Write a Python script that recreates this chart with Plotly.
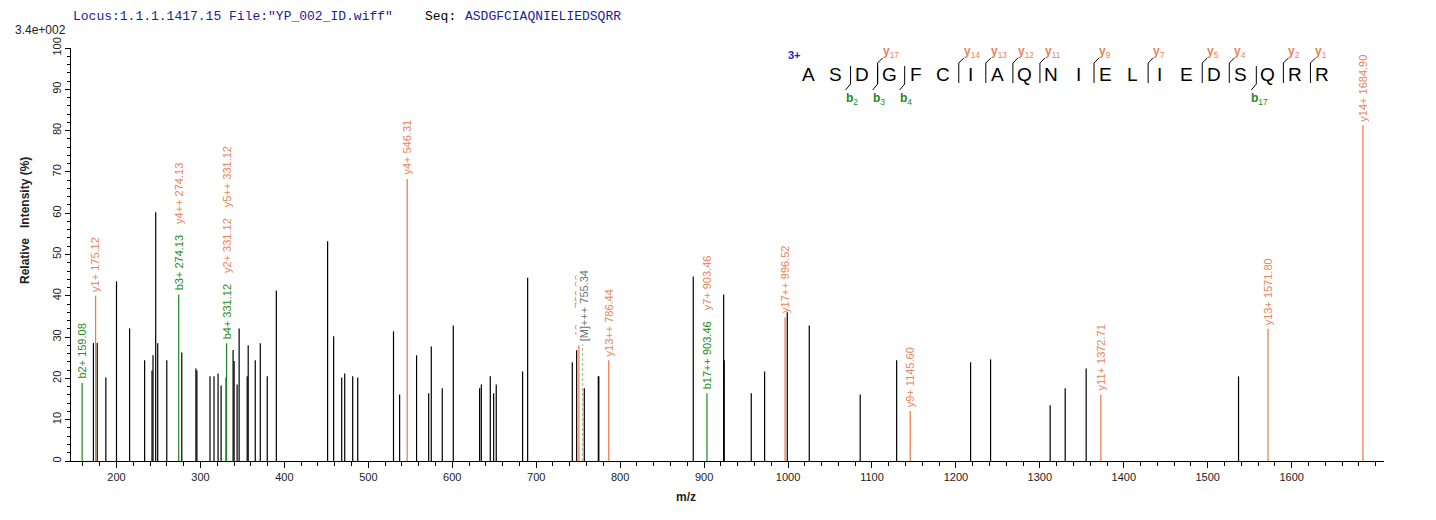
import plotly.graph_objects as go

# ---------------- data ----------------
black_mz = [172.5, 177.0, 187.3, 200.0, 215.6, 233.5, 242.3, 243.5, 246.7, 249.1,
            259.9, 277.8, 294.6, 295.8, 311.4, 316.2, 321.0, 324.6, 330.6, 338.9,
            340.1, 343.7, 346.1, 355.7, 356.9, 365.3, 371.3, 379.6, 390.4, 451.5,
            458.7, 468.3, 471.9, 481.4, 487.4, 530.0, 537.3, 557.5, 571.9, 575.0,
            588.1, 601.2, 632.6, 634.6, 645.3, 649.3, 652.4, 683.8, 689.8, 743.0,
            748.2, 757.3, 774.0, 774.6, 887.1, 923.3, 924.0, 956.2, 972.1, 999.1,
            1025.3, 1086.0, 1129.4, 1217.5, 1241.3, 1312.3, 1330.2, 1355.2, 1536.7]
black_int = [28.6, 28.6, 20.2, 43.5, 32.1, 24.4, 21.9, 25.6, 60.2, 28.5,
             24.4, 26.3, 22.4, 21.9, 20.5, 20.5, 21.2, 18.3, 20.2, 26.9,
             24.2, 18.5, 32.1, 20.5, 28.0, 24.4, 28.5, 20.5, 41.3, 53.2,
             30.2, 20.2, 21.2, 20.5, 20.2, 31.4, 16.1, 25.6, 16.4, 27.7,
             17.6, 32.8, 17.6, 18.5, 20.5, 16.4, 18.5, 21.7, 44.4, 23.9,
             26.8, 17.6, 20.5, 20.5, 44.7, 40.3, 24.4, 16.4, 21.7, 36.0,
             32.8, 16.1, 24.4, 23.9, 24.6, 13.5, 17.6, 22.4, 20.5]

# annotated fragment peaks
frag_mz = [159.08, 175.12, 274.13, 331.12, 546.31, 750.88, 786.44, 903.46,
           996.52, 1145.60, 1372.71, 1571.80, 1684.90]
frag_int = [18.9, 40.0, 40.3, 28.5, 68.3, 28.0, 24.4, 16.4,
            34.8, 12.1, 16.1, 32.0, 81.3]
frag_type = ["b", "y", "b", "b", "y", "y", "y", "b", "y", "y", "y", "y", "y"]
frag_labels = [
    [("b", "b2+ 159.08")],
    [("y", "y1+ 175.12")],
    [("b", "b3+ 274.13"), ("y", "y4++ 274.13")],
    [("b", "b4+ 331.12"), ("y", "y2+ 331.12"), ("y", "y5++ 331.12")],
    [("y", "y4+ 546.31")],
    [("y", "y12++ 750.88")],
    [("y", "y13++ 786.44")],
    [("b", "b17++ 903.46"), ("y", "y7+ 903.46")],
    [("y", "y17++ 996.52")],
    [("y", "y9+ 1145.60")],
    [("y", "y11+ 1372.71")],
    [("y", "y13+ 1571.80")],
    [("y", "y14+ 1684.90")],
]

prec_mz = [755.34]
prec_int = [28.3]
prec_label = ["[M]+++ 755.34"]

sequence = "ASDGFCIAQNIELIEDSQRR"
b_ions = [2, 3, 4, 17]
y_ions = [17, 14, 13, 12, 11, 9, 7, 5, 4, 2, 1]

x_ticks = [200, 300, 400, 500, 600, 700, 800, 900, 1000, 1100, 1200, 1300, 1400, 1500, 1600]
y_ticks = [0, 10, 20, 30, 40, 50, 60, 70, 80, 90, 100]

# ---------------- style ----------------
ORANGE_LINE = "#F2753D"
ORANGE_TXT = "#E8845A"
GREEN_LINE = "#1E8A1E"
GREEN_TXT = "#238C23"
BLUE = "#1C1C9C"
FONT = "Liberation Sans, Arial, sans-serif"
MONO = "Liberation Mono, Courier New, monospace"

# page has an 8px body margin: size the figure so it lands on the 1436x520 window
OFF = 8
W, H = 1436 - OFF, 520 - OFF
# plot-area edges in window pixels
L, R, T, B = 71, 1384, 48, 461


def pxx(xp):
    return (xp - L) / (R - L)


def pxy(yp):
    return (B - yp) / (B - T)


def sticks(xs, ys):
    X, Y = [], []
    for a, b in zip(xs, ys):
        X += [a, a, None]
        Y += [0, b, None]
    return X, Y


fig = go.Figure()
bx, by = sticks(black_mz, black_int)
fig.add_trace(go.Scatter(x=bx, y=by, mode="lines", line=dict(color="black", width=1.2),
                         hoverinfo="skip", showlegend=False))
for t, col in (("y", ORANGE_LINE), ("b", GREEN_LINE)):
    xs = [m for m, tt in zip(frag_mz, frag_type) if tt == t]
    ys = [h for h, tt in zip(frag_int, frag_type) if tt == t]
    fx, fy = sticks(xs, ys)
    fig.add_trace(go.Scatter(x=fx, y=fy, mode="lines", line=dict(color=col, width=1.2),
                             hoverinfo="skip", showlegend=False))
px_, py_ = sticks(prec_mz, prec_int)
fig.add_trace(go.Scatter(x=px_, y=py_, mode="lines", line=dict(color="#A8A8A8", width=1, dash="3px,2px"),
                         hoverinfo="skip", showlegend=False))

ann = []
for m, h, labs in zip(frag_mz, frag_int, frag_labels):
    parts = []
    for t, s in labs:
        c = GREEN_TXT if t == "b" else ORANGE_TXT
        parts.append('<span style="color:%s">%s</span>' % (c, s))
    txt = "\u2002\u2002".join(parts)
    ann.append(dict(x=m, y=h, xref="x", yref="y", text=txt, textangle=-90,
                    showarrow=False, xanchor="center", yanchor="bottom", yshift=2,
                    font=dict(family=FONT, size=11)))
for m, h, s in zip(prec_mz, prec_int, prec_label):
    ann.append(dict(x=m, y=h, xref="x", yref="y", text=s, textangle=-90,
                    showarrow=False, xanchor="center", yanchor="bottom", yshift=1, xshift=1,
                    bgcolor="white", font=dict(family=FONT, size=11, color="#707070")))

# header
ann.append(dict(x=pxx(71), y=pxy(16), xref="paper", yref="paper", xanchor="left", yanchor="middle",
                showarrow=False, text='Locus:1.1.1.1417.15 File:"YP_002_ID.wiff"',
                font=dict(family=MONO, size=13, color=BLUE)))
ann.append(dict(x=pxx(423), y=pxy(16), xref="paper", yref="paper", xanchor="left", yanchor="middle",
                showarrow=False, text="Seq:", font=dict(family=MONO, size=13, color="black")))
ann.append(dict(x=pxx(463), y=pxy(16), xref="paper", yref="paper", xanchor="left", yanchor="middle",
                showarrow=False, text=sequence, font=dict(family=MONO, size=13, color=BLUE)))
ann.append(dict(x=pxx(68), y=pxy(30), xref="paper", yref="paper", xanchor="right", yanchor="middle",
                showarrow=False, text="3.4e+002", font=dict(family=FONT, size=12, color="#222")))

# axis titles
ann.append(dict(x=pxx(25), y=pxy(221), xref="paper", yref="paper", xanchor="center", yanchor="middle",
                showarrow=False, textangle=-90, text="<b>Relative\u00a0\u00a0\u00a0Intensity (%)</b>",
                font=dict(family=FONT, size=12, color="#222")))
ann.append(dict(x=pxx(686), y=pxy(497), xref="paper", yref="paper", xanchor="center", yanchor="middle",
                showarrow=False, text="<b>m/z</b>", font=dict(family=FONT, size=12, color="#222")))

# sequence diagram
X0, DX, YC = 808, 27.05, 74
ann.append(dict(x=pxx(786), y=pxy(55), xref="paper", yref="paper", xanchor="left", yanchor="middle",
                showarrow=False, text="<b>3+</b>", font=dict(family=FONT, size=11, color="#2222CC")))
for i, ch in enumerate(sequence):
    ann.append(dict(x=pxx(X0 + i * DX), y=pxy(YC), xref="paper", yref="paper", xanchor="center",
                    yanchor="middle", showarrow=False, text=ch,
                    font=dict(family=FONT, size=19, color="black")))
shapes = []
n = len(sequence)
for k in b_ions:
    xc = X0 + (k - 0.5) * DX + 2
    shapes.append(dict(type="line", xref="paper", yref="paper", x0=pxx(xc), x1=pxx(xc),
                       y0=pxy(66), y1=pxy(84), line=dict(color="black", width=1)))
    shapes.append(dict(type="line", xref="paper", yref="paper", x0=pxx(xc), x1=pxx(xc - 5),
                       y0=pxy(84), y1=pxy(90), line=dict(color="black", width=1)))
    ann.append(dict(x=pxx(xc - 7), y=pxy(99), xref="paper", yref="paper", xanchor="left",
                    yanchor="middle", showarrow=False, text="<b>b</b><sub>%d</sub>" % k,
                    font=dict(family=FONT, size=12, color=GREEN_LINE)))
for j in y_ions:
    k = n - j
    xc = X0 + (k - 0.5) * DX + 2
    shapes.append(dict(type="line", xref="paper", yref="paper", x0=pxx(xc), x1=pxx(xc),
                       y0=pxy(63), y1=pxy(83), line=dict(color="black", width=1)))
    shapes.append(dict(type="line", xref="paper", yref="paper", x0=pxx(xc), x1=pxx(xc + 5),
                       y0=pxy(63), y1=pxy(58), line=dict(color="black", width=1)))
    ann.append(dict(x=pxx(xc + 3), y=pxy(52), xref="paper", yref="paper", xanchor="left",
                    yanchor="middle", showarrow=False, text="<b>y</b><sub>%d</sub>" % j,
                    font=dict(family=FONT, size=12, color=ORANGE_TXT)))

fig.update_layout(
    width=W, height=H,
    margin=dict(l=L - OFF, r=1436 - R, t=T - OFF, b=520 - B, pad=0),
    paper_bgcolor="white", plot_bgcolor="white",
    annotations=ann, shapes=shapes,
    xaxis=dict(range=[145.8, 1710], showgrid=False, zeroline=False, showline=True,
               linecolor="black", linewidth=1, ticks="outside", ticklen=6, tickcolor="black",
               tickmode="array", tickvals=x_ticks, ticktext=[str(v) for v in x_ticks],
               tickfont=dict(family=FONT, size=11, color="#222"),
               minor=dict(dtick=20, tick0=0, ticks="outside", ticklen=4, tickcolor="black")),
    yaxis=dict(range=[0, 100], showgrid=False, zeroline=False, showline=True,
               linecolor="black", linewidth=1, ticks="outside", ticklen=5, tickcolor="black",
               tickmode="array", tickvals=y_ticks, ticktext=[str(v) for v in y_ticks],
               tickangle=-90, tickfont=dict(family=FONT, size=11, color="#222"),
               minor=dict(dtick=2, tick0=0, ticks="outside", ticklen=3, tickcolor="black")),
)

fig.write_html("out.html")
